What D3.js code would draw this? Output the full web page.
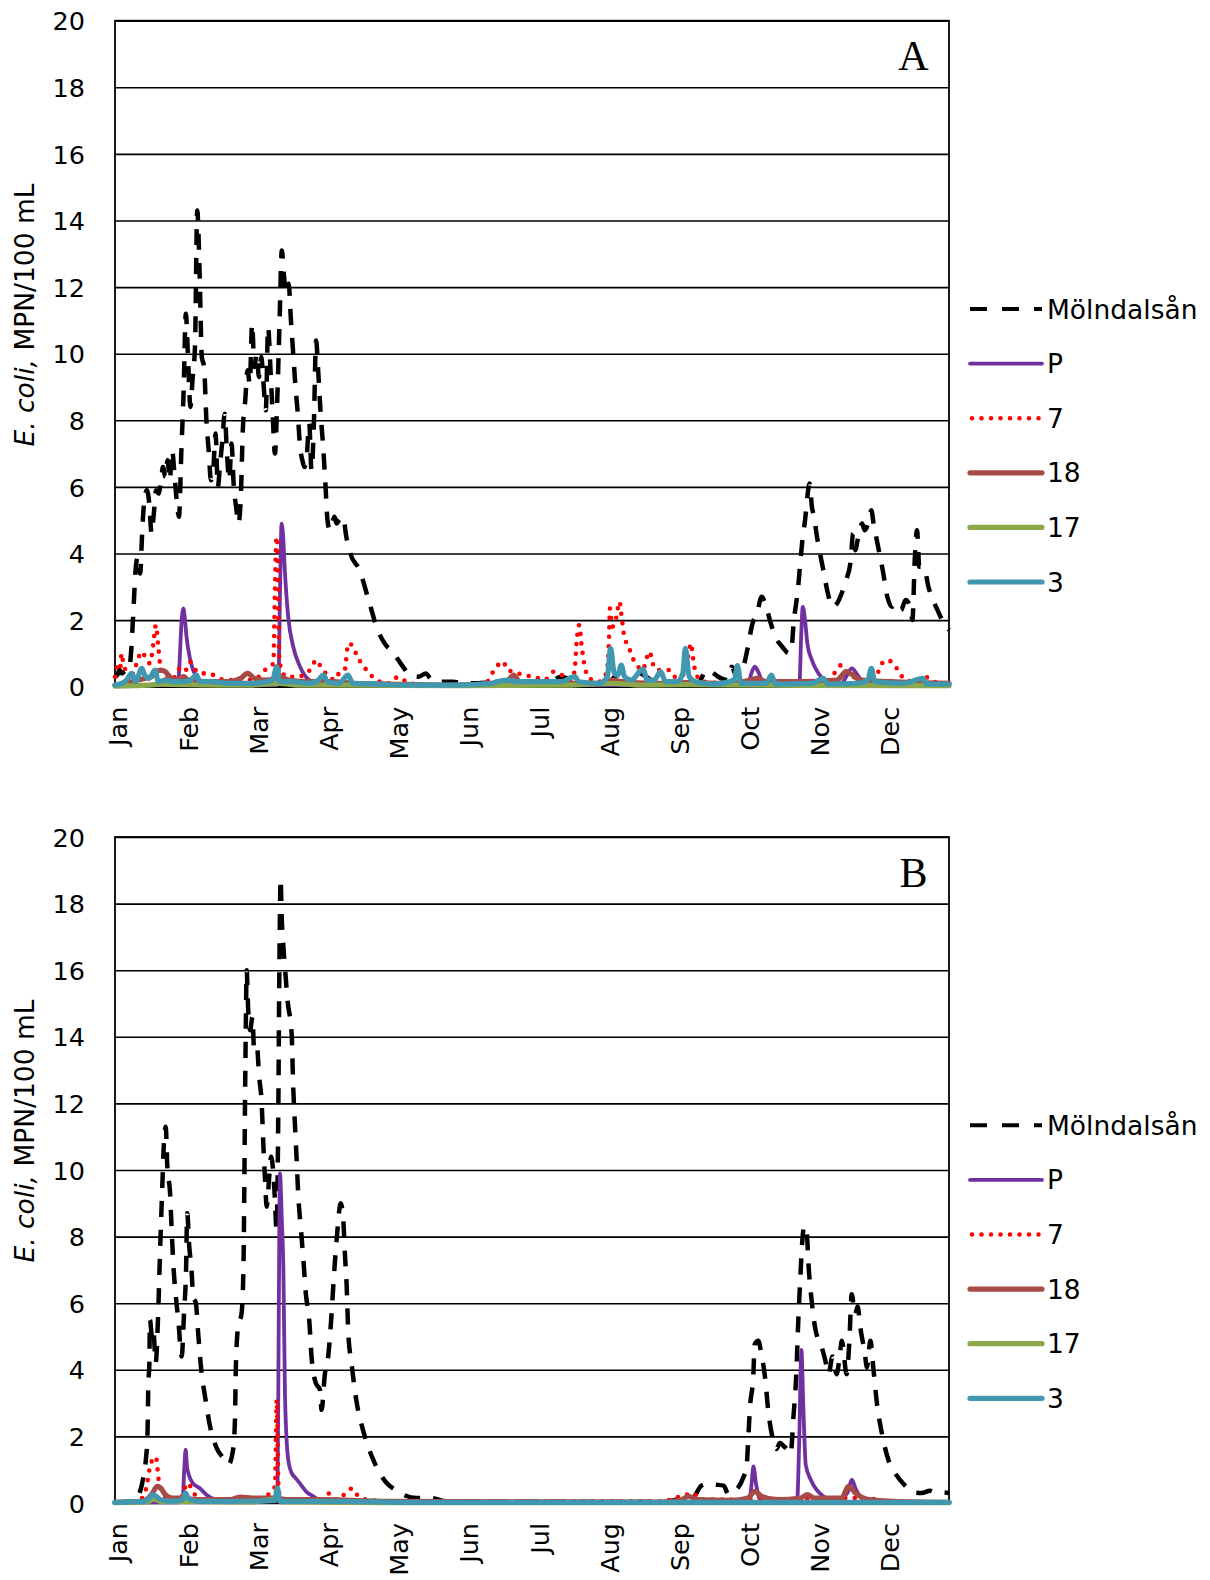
<!DOCTYPE html>
<html><head><meta charset="utf-8">
<script src="https://cdn.jsdelivr.net/npm/d3@7"></script>
<style>body{margin:0;background:#fff}svg{display:block}</style>
</head><body>
<svg id="chart" width="1210" height="1580"></svg>
<script>
// ---------------- DATA ----------------
const months = ["Jan","Feb","Mar","Apr","May","Jun","Jul","Aug","Sep","Oct","Nov","Dec"];
const yTicks = [0,2,4,6,8,10,12,14,16,18,20];
const seriesNames = ["Mölndalsån","P","7","18","17","3"];
const panelLabels = ["A","B"];

// [day of year, E. coli MPN/100 mL]
const A_molndalsan = [[0,0.3],[1,0.35],[2,0.5],[3,0.4],[4,0.45],[5,0.5],[6,0.5],[7,1.0],[8,2.2],[9,3.5],[10,3.9],[11,3.4],[12,4.8],[13,5.7],[14,5.9],[15,5.5],[16,4.6],[17,5.2],[18,5.9],[19,5.8],[20,6.1],[21,6.6],[22,6.3],[23,6.8],[24,6.2],[25,7.1],[26,6.4],[27,5.6],[28,5.1],[29,7.0],[30,8.8],[31,11.2],[32,9.8],[33,8.4],[34,9.3],[35,10.2],[36,14.3],[37,12.5],[38,9.9],[39,9.6],[40,8.0],[41,7.1],[42,6.2],[43,6.5],[44,7.6],[45,6.0],[46,6.7],[47,7.4],[48,8.2],[49,7.0],[50,6.2],[51,7.3],[52,6.0],[53,5.4],[54,4.9],[55,5.6],[56,7.8],[57,8.6],[58,9.5],[59,9.1],[60,10.9],[61,9.6],[62,10.0],[63,9.3],[64,9.9],[65,9.1],[66,8.3],[67,10.8],[68,9.6],[69,8.2],[70,7.0],[71,8.6],[72,10.9],[73,13.1],[74,12.3],[75,11.8],[76,12.1],[77,11.0],[78,10.0],[79,9.0],[80,8.2],[81,7.2],[82,6.8],[83,6.6],[84,7.0],[85,7.9],[86,6.5],[87,7.8],[88,10.4],[89,9.4],[90,8.2],[91,7.3],[92,6.2],[93,5.0],[94,4.7],[95,4.9],[96,5.1],[97,4.9],[98,5.0],[100,5.1],[101,4.6],[103,4.0],[107,3.5],[111,2.6],[115,1.7],[118,1.3],[122,1.0],[126,0.6],[129,0.35],[133,0.3],[136,0.4],[138,0.25],[142,0.15],[148,0.15],[152,0.1],[158,0.1],[162,0.12],[170,0.05],[180,0.05],[190,0.1],[195,0.3],[198,0.25],[205,0.05],[215,0.1],[222,0.45],[226,0.45],[230,0.4],[235,0.2],[245,0.1],[255,0.1],[259,0.5],[262,0.4],[264,0.3],[268,0.2],[270,0.6],[272,0.3],[275,0.6],[277,1.2],[279,1.9],[281,2.2],[283,2.7],[285,2.4],[287,1.9],[289,1.5],[292,1.2],[295,1.0],[296,1.1],[297,1.9],[299,3.0],[300,3.8],[301,4.5],[302,5.0],[303,5.7],[304,6.1],[305,5.4],[306,5.1],[307,4.6],[308,4.2],[310,3.5],[312,2.8],[314,2.4],[316,2.5],[318,2.8],[320,3.2],[322,3.8],[323,4.6],[324,4.1],[325,4.4],[327,4.9],[328,4.7],[330,5.0],[331,5.3],[332,4.9],[334,4.2],[336,3.5],[338,2.7],[340,2.4],[342,2.5],[344,2.3],[346,2.6],[348,2.4],[349,2.0],[350,3.8],[351,4.7],[352,3.6],[354,3.6],[356,3.0],[358,2.6],[360,2.3],[362,2.0],[365,1.7]];
const A_P = [[0,0.05],[27.5,0.05],[28,0.4],[29,1.8],[29.9,2.35],[30.5,2.1],[31.3,1.5],[32.8,0.85],[34.2,0.5],[36.4,0.25],[40,0.1],[50,0.05],[71,0.05],[71.6,0.3],[72.3,3.2],[72.9,4.9],[73.6,4.5],[74.4,3.4],[75.8,2.1],[78,1.2],[81,0.6],[85,0.2],[90,0.08],[100,0.05],[277,0.05],[278.5,0.4],[280,0.6],[281.5,0.45],[283,0.2],[286,0.08],[299.5,0.05],[300.3,1.5],[301,2.4],[302,2.0],[303,1.3],[305,0.8],[307,0.5],[309,0.3],[312,0.15],[318,0.1],[320,0.3],[322.5,0.55],[325,0.35],[327,0.15],[330,0.05],[365,0.05]];
const A_7 = [[0,0.3],[1,0.6],[2.2,0.5],[2.9,1.0],[3.6,0.7],[5,0.45],[6.6,0.2],[8,0.4],[9.5,0.7],[11.6,1.05],[13.6,0.85],[15.3,0.7],[16.8,1.3],[17.9,1.85],[18.9,1.25],[19.7,0.7],[21.9,0.3],[25,0.2],[28.4,0.55],[30.5,0.45],[32.8,0.75],[34.2,0.6],[37.2,0.4],[40.9,0.4],[44.5,0.3],[48,0.2],[55,0.2],[59,0.2],[63,0.3],[66.4,0.55],[69.3,0.7],[70,2.9],[70.7,4.5],[71.2,3.9],[71.9,0.9],[72.9,0.5],[75,0.3],[80,0.3],[85.3,0.5],[88.2,0.8],[90.4,0.55],[94,0.3],[96,0.2],[98.5,0.45],[100.5,0.5],[102.1,1.3],[104.3,1.2],[105.7,0.95],[107.9,0.7],[110.1,0.5],[114.5,0.2],[120,0.1],[124,0.3],[127.6,0.15],[135,0.05],[150,0.05],[162,0.1],[166.9,0.6],[170,0.75],[171.6,0.5],[174.7,0.45],[178.6,0.35],[183.3,0.3],[188,0.2],[191.9,0.45],[193.5,0.4],[197.4,0.3],[200,0.2],[201.3,0.6],[202.1,1.4],[203.2,1.85],[204.1,1.3],[205.2,0.75],[207.6,0.25],[212,0.15],[215,0.4],[216.1,1.2],[216.6,2.35],[217.7,1.8],[219.3,2.05],[220.8,2.55],[221.9,2.0],[222.9,1.5],[224.8,1.2],[226.3,0.9],[227.9,0.7],[231,0.5],[232.6,0.85],[234.1,1.05],[234.9,0.8],[237.3,0.5],[240.4,0.5],[242.7,0.5],[245,0.3],[248,0.3],[250.5,0.8],[252.1,1.3],[252.9,0.9],[254.4,0.35],[258,0.15],[270,0.1],[290,0.1],[305,0.1],[312,0.2],[314.8,0.4],[317.9,0.65],[319.5,0.5],[323,0.3],[328,0.2],[333,0.3],[335.2,0.65],[337.6,0.8],[340.7,0.7],[343,0.45],[346,0.2],[350,0.15],[354.5,0.3],[358,0.15],[365,0.1]];
const A_18 = [[0,0.05],[5,0.1],[10,0.2],[13,0.25],[16,0.3],[18,0.45],[20,0.5],[22,0.45],[24,0.3],[27,0.2],[30,0.3],[32,0.2],[40,0.15],[50,0.15],[55,0.25],[58,0.4],[61,0.25],[66,0.2],[70,0.25],[72,0.3],[76,0.2],[85,0.15],[95,0.15],[105,0.1],[120,0.08],[150,0.05],[166,0.1],[172,0.2],[174.5,0.35],[177,0.15],[190,0.08],[200,0.1],[213,0.1],[218,0.2],[222,0.15],[235,0.1],[250,0.12],[270,0.1],[278,0.2],[281,0.25],[285,0.15],[300,0.15],[316,0.2],[320,0.45],[323,0.35],[326,0.2],[340,0.15],[350,0.12],[365,0.1]];
const A_17 = [[0,0.02],[15,0.05],[20,0.08],[30,0.06],[45,0.05],[60,0.05],[72,0.1],[80,0.05],[100,0.05],[150,0.03],[200,0.05],[217,0.1],[230,0.05],[250,0.06],[300,0.04],[365,0.03]];
const A_3 = [[0,0.05],[3,0.1],[5,0.2],[7.3,0.4],[9,0.15],[11.7,0.55],[13,0.35],[15,0.25],[17.5,0.5],[19,0.15],[22,0.2],[26,0.15],[30,0.15],[33,0.2],[35.7,0.35],[37,0.15],[42,0.15],[50,0.1],[60,0.1],[66,0.15],[69,0.2],[70.8,0.6],[72,0.15],[78,0.15],[85,0.1],[89,0.2],[91.2,0.35],[93,0.15],[98,0.1],[102,0.35],[104,0.1],[115,0.08],[125,0.05],[150,0.05],[165,0.1],[167,0.15],[172,0.2],[176,0.15],[185,0.15],[195,0.15],[201.3,0.3],[203,0.15],[212,0.1],[215.5,0.3],[216.9,1.15],[218.5,0.4],[220,0.35],[221.6,0.65],[223,0.3],[226,0.2],[231,0.53],[233,0.2],[236,0.2],[238.8,0.45],[241,0.15],[246,0.15],[248.5,0.4],[249.6,1.15],[251.3,0.3],[254,0.15],[262,0.08],[271,0.2],[272.4,0.63],[274,0.1],[285,0.1],[287.3,0.35],[289,0.08],[305,0.1],[309.9,0.25],[312,0.08],[325,0.1],[329.5,0.2],[331,0.55],[332.5,0.15],[345,0.1],[353.7,0.25],[355,0.08],[365,0.08]];

const B_molndalsan = [[0,0.02],[5,0.03],[9,0.1],[10.9,0.33],[12.4,0.77],[13.5,1.3],[14.2,2.0],[14.6,3.6],[15,4.1],[15.3,5.5],[16.2,5.0],[16.8,5.2],[17.8,4.2],[18.9,5.7],[19.7,7.5],[20.7,9.5],[21.4,10.8],[22.2,11.3],[22.9,10.1],[24.1,9.3],[24.8,8.2],[25.5,7.2],[26.5,6.3],[27.7,5.5],[29.2,4.4],[30.2,5.7],[31.1,7.0],[31.6,8.7],[32.5,7.7],[33.5,7.0],[34.2,6.2],[35.4,6.0],[36.4,5.1],[37.9,3.9],[39.4,3.2],[41.6,2.3],[44.5,1.65],[47.4,1.35],[49.6,1.15],[51.8,1.65],[52.5,2.5],[52.9,4.1],[53.9,5.3],[55.4,5.7],[56.2,7.0],[56.6,9.5],[56.9,12.0],[57.3,14.6],[57.6,16.0],[58.3,14.8],[59.1,14.2],[60.2,14.6],[60.8,13.7],[62,13.8],[63.1,12.8],[64.2,12.0],[64.9,10.8],[65.6,9.8],[66.4,8.9],[67.5,9.8],[68.3,10.4],[69.3,9.9],[70,9.1],[70.7,8.2],[71.5,12.0],[71.9,15.8],[72.5,18.75],[72.9,17.7],[73.7,16.7],[74.7,15.8],[75.5,15.1],[77.3,14.1],[78,12.5],[78.8,11.3],[79.5,10.3],[80.2,9.25],[81.4,8.2],[82.4,7.35],[83.5,6.3],[85,5.5],[86,4.4],[87.9,3.6],[89.7,3.4],[90.4,2.8],[91.9,3.9],[93.3,4.4],[94.8,5.7],[95.8,6.8],[97,7.9],[98.8,9.0],[99.9,8.5],[100.6,7.5],[101.4,6.5],[102.1,5.1],[103.5,4.2],[105.7,3.05],[108.7,2.15],[113,1.3],[118.9,0.6],[122.5,0.4],[132,0.15],[138,0.15],[145,0.05],[240,0.03],[247,0.12],[253,0.17],[256.6,0.52],[259.4,0.57],[263,0.55],[266.4,0.52],[268.4,0.27],[272,0.4],[275,0.77],[276.4,1.07],[277.1,1.87],[277.9,2.87],[279.3,3.77],[280,4.77],[281.5,4.87],[282.9,4.47],[284.5,3.77],[285.9,2.77],[288.1,1.87],[289.5,1.62],[291,1.8],[292.5,1.72],[294,1.62],[295.7,1.47],[296.9,2.57],[298.1,3.77],[299.1,5.57],[299.8,6.57],[300.8,7.87],[301.6,8.32],[302.7,8.17],[303.5,7.17],[304.6,6.27],[306.4,5.27],[307.9,4.87],[309.3,4.67],[310.8,4.3],[312.3,3.87],[314,4.4],[315.8,3.87],[317,4.3],[318.1,4.87],[320.2,3.87],[321.4,4.87],[322.4,6.27],[323.9,5.67],[325,5.9],[326.2,5.27],[326.9,4.97],[328,4.6],[329.1,4.07],[330.6,4.87],[332,3.97],[333.5,2.97],[335.7,2.07],[338.6,1.27],[340.8,0.97],[345.8,0.52],[349.4,0.32],[353,0.3],[356.7,0.37],[360,0.3],[362.5,0.32],[365,0.3]];
const B_P = [[0,0.02],[28,0.02],[29.6,0.1],[30.3,1.0],[30.9,1.6],[31.5,1.1],[32.3,0.85],[34,0.6],[37,0.45],[40,0.25],[44,0.1],[50,0.05],[70,0.05],[71.1,0.1],[71.7,6.0],[72.2,9.9],[73.0,8.5],[73.7,7.0],[74.4,3.2],[75.8,1.3],[77.3,0.9],[78.8,0.77],[81,0.58],[83.9,0.33],[86.8,0.2],[89.7,0.08],[100,0.03],[277.5,0.03],[278.5,0.5],[279.4,1.1],[280.5,0.6],[282,0.15],[284,0.05],[298.5,0.05],[299.5,2.0],[300.4,4.6],[301.2,3.0],[302.3,1.15],[304.5,0.7],[307,0.4],[310,0.2],[315,0.05],[320.5,0.3],[322.5,0.7],[324,0.45],[326,0.2],[330,0.05],[365,0.02]];
const B_7 = [[0,0.03],[10,0.05],[13,0.3],[14.6,0.8],[15.3,1.1],[16.5,1.3],[17.5,1.39],[18.2,1.3],[18.9,0.8],[19.7,0.5],[21,0.3],[23,0.15],[28,0.1],[30,0.3],[31.5,0.6],[33,0.5],[35,0.25],[40,0.1],[60,0.1],[67,0.25],[70,0.5],[70.8,3.1],[71.6,0.4],[73,0.1],[90,0.1],[94,0.29],[97,0.1],[101.7,0.34],[103.8,0.44],[105,0.3],[107.5,0.2],[110,0.1],[120,0.05],[240,0.05],[245,0.15],[250,0.25],[253,0.3],[256,0.1],[275,0.1],[282,0.15],[290,0.1],[320,0.15],[330,0.15],[335,0.05],[365,0.02]];
const B_18 = [[0,0.02],[12,0.05],[16,0.25],[18.5,0.5],[20,0.45],[22,0.25],[25,0.15],[30,0.15],[35,0.1],[50,0.1],[55,0.18],[60,0.15],[70,0.15],[75,0.1],[90,0.1],[120,0.05],[240,0.03],[248,0.1],[251,0.2],[255,0.1],[270,0.08],[277,0.15],[280,0.35],[283,0.2],[290,0.1],[300,0.15],[303,0.25],[306,0.15],[318,0.15],[321,0.5],[324,0.3],[330,0.1],[340,0.05],[365,0.02]];
const B_17 = [[0,0.01],[14,0.03],[17,0.12],[20,0.05],[30,0.05],[60,0.03],[71,0.12],[73,0.03],[120,0.01],[365,0.01]];
const B_3 = [[0,0.02],[13,0.05],[15,0.15],[16.5,0.25],[18,0.2],[20,0.1],[25,0.05],[29.5,0.1],[30.9,0.3],[32,0.15],[36,0.05],[50,0.05],[70,0.08],[71,0.45],[72.3,0.05],[100,0.05],[130,0.02],[365,0.02]];

const panelData = [
  [A_molndalsan, A_P, A_7, A_18, A_17, A_3],
  [B_molndalsan, B_P, B_7, B_18, B_17, B_3]
];

// ---------------- STYLES / LAYOUT ----------------
const seriesStyle = [
  {color:"#000000", width:4.5, dash:"16,13", cap:"butt"},
  {color:"#7030A0", width:3.8, dash:null,    cap:"round"},
  {color:"#FF0000", width:4.6, dash:"0,9.5", cap:"round"},
  {color:"#A84A45", width:5.2, dash:null,    cap:"round"},
  {color:"#8BA84A", width:5.2, dash:null,    cap:"round"},
  {color:"#4098B0", width:5.2, dash:null,    cap:"round"}
];
const layout = [{top:20.7, bottom:686.7, titleY:315}, {top:837, bottom:1503, titleY:1131}];
const X0 = 115, X1 = 949;
const font = "'DejaVu Sans', sans-serif";

const svg = d3.select("#chart");
const x = d3.scaleLinear().domain([0,365]).range([X0,X1]);
const mx = d3.scalePoint().domain(months).range([118.3, 890.3]);

layout.forEach((L, pi) => {
  const g = svg.append("g");
  const y = d3.scaleLinear().domain([0,20]).range([L.bottom, L.top]);

  // gridlines + y tick labels
  const yAxis = d3.axisLeft(y).tickValues(yTicks).tickSize(-(X1-X0)).tickPadding(30).tickFormat(d3.format("d"));
  const ga = g.append("g").attr("transform", `translate(${X0},0)`).call(yAxis);
  ga.select(".domain").remove();
  ga.selectAll("line").attr("stroke","#000").attr("stroke-width",1.6);
  ga.selectAll("text").attr("font-family",font).attr("font-size",25.5).attr("fill","#000").attr("dy","0.36em");

  // plot border
  g.append("rect").attr("x",X0).attr("y",L.top).attr("width",X1-X0).attr("height",L.bottom-L.top)
    .attr("fill","none").attr("stroke","#000").attr("stroke-width",1.8);

  // month labels
  g.selectAll("text.month").data(months).enter().append("text")
    .attr("class","month")
    .attr("transform", d => `translate(${mx(d)},${L.bottom+20}) rotate(-90)`)
    .attr("text-anchor","end").attr("dy","0.36em")
    .attr("font-family",font).attr("font-size",25.5).attr("fill","#000")
    .text(d => d);

  // y axis title
  const t = g.append("text")
    .attr("transform", `translate(24,${L.titleY}) rotate(-90)`)
    .attr("text-anchor","middle").attr("dy","0.36em")
    .attr("font-family",font).attr("font-size",26.5).attr("fill","#000");
  t.append("tspan").attr("font-style","italic").text("E. coli,");
  t.append("tspan").text(" MPN/100 mL");

  // series
  const line = d3.line().x(d => x(d[0])).y(d => y(d[1])).curve(d3.curveMonotoneX);
  panelData[pi].forEach((data, si) => {
    const s = seriesStyle[si];
    g.append("path").datum(data).attr("d", line)
      .attr("fill","none").attr("stroke",s.color).attr("stroke-width",s.width)
      .attr("stroke-linecap",s.cap).attr("stroke-linejoin","round")
      .attr("stroke-dasharray", s.dash);
  });

  // panel letter
  g.append("text").attr("x",913.5).attr("y",L.top+49.5).attr("text-anchor","middle")
    .attr("font-family","'Liberation Serif', 'Times New Roman', serif").attr("font-size",42).attr("fill","#000")
    .text(panelLabels[pi]);

  // legend
  const lg = g.append("g");
  seriesNames.forEach((name, si) => {
    const s = seriesStyle[si];
    const ly = L.top + 288.3 + si*54.6;
    lg.append("line").attr("x1", si===2 ? 972 : 970).attr("x2",1042).attr("y1",ly).attr("y2",ly)
      .attr("stroke",s.color).attr("stroke-width", si===0 ? 4 : s.width)
      .attr("stroke-linecap", s.cap).attr("stroke-dasharray", si===0 ? "17,15" : s.dash);
    lg.append("text").attr("x",1047).attr("y",ly).attr("dy","0.36em")
      .attr("font-family",font).attr("font-size",26.5).attr("fill","#000").text(name);
  });
});
</script>
</body></html>
